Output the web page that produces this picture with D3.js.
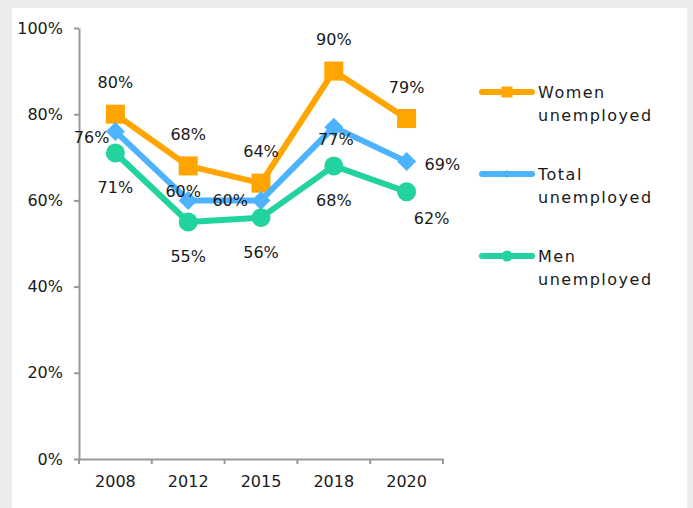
<!DOCTYPE html>
<html>
<head>
<meta charset="utf-8">
<script src="https://cdn.jsdelivr.net/npm/d3@7"></script>
<style>
	html, body { margin: 0; padding: 0; background: #ececec; }
	svg { display: block; }
	text { font-family: "Century Gothic", "DejaVu Sans", sans-serif; fill: #1a1a1a; }
</style>
</head>
<body>
<script>
var years = ["2008", "2012", "2015", "2018", "2020"];
var women = [0.80, 0.68, 0.64, 0.90, 0.79];
var total = [0.76, 0.60, 0.60, 0.77, 0.69];
var men = [0.71, 0.55, 0.56, 0.68, 0.62];
var yTicks = [0, 0.2, 0.4, 0.6, 0.8, 1];
var seriesNames = [["Women", "unemployed"], ["Total", "unemployed"], ["Men", "unemployed"]];

var width = 693,
	height = 508;

var svg = d3.select("body").append("svg")
	.attr("width", width)
	.attr("height", height);

// white panel
svg.append("rect")
	.attr("x", 12).attr("y", 8)
	.attr("width", 675).attr("height", 500)
	.attr("fill", "#fff");

var x = d3.scaleBand().domain(years).range([79, 443]);
var y = d3.scaleLinear().domain([0, 1]).range([459, 28]);
var cx = function(d, i) { return x(years[i]) + x.bandwidth() / 2; };
var pct = d3.format(".0%");

var series = [
	{ values: women, color: "#ffa500", shape: "square", place: ["above", "above", "above", "above", "above"] },
	{ values: total, color: "#4db3ff", shape: "diamond", place: ["lowerleft", "upperleft", "left", "under", "right"] },
	{ values: men, color: "#22d3a0", shape: "circle", place: ["below", "below", "below", "below", "belowright"] }
];

// label offsets from the point, by placement keyword: [dx, dy, anchor]
var placements = {
	above: [0, -26, "middle"],
	below: [0, 40, "middle"],
	under: [2, 18, "middle"],
	belowright: [25, 32, "middle"],
	left: [-13, 6, "end"],
	lowerleft: [-6, 12, "end"],
	upperleft: [-5, -3, "middle"],
	right: [18, 8, "start"]
};

// axes
svg.append("g")
	.attr("transform", "translate(79,0)")
	.call(d3.axisLeft(y).tickValues(yTicks).tickFormat(pct).tickSize(5).tickSizeOuter(0).tickPadding(11));

var xAxis = svg.append("g")
	.attr("transform", "translate(0,459)")
	.call(d3.axisBottom(x).tickSize(0).tickSizeOuter(0).tickPadding(17));

var edges = years.map(function(d) { return x(d); }).concat([x(years[years.length - 1]) + x.bandwidth()]);
xAxis.selectAll(".edge").data(edges).enter().append("line")
	.attr("class", "edge")
	.attr("x1", function(d) { return d; }).attr("x2", function(d) { return d; })
	.attr("y1", 0).attr("y2", 5);

svg.selectAll(".domain, .tick line, .edge")
	.attr("stroke", "#999")
	.attr("stroke-width", 2);
svg.selectAll(".tick text")
	.style("font-size", "16px")
	.attr("fill", "#1a1a1a");

function marker(sel, shape, size) {
	if(shape === "square") {
		sel.append("rect")
			.attr("x", -size / 2).attr("y", -size / 2)
			.attr("width", size).attr("height", size);
	} else if(shape === "diamond") {
		var h = size / 2;
		sel.append("path").attr("d", "M0," + (-h) + "L" + h + ",0L0," + h + "L" + (-h) + ",0Z");
	} else {
		sel.append("circle").attr("r", size / 2);
	}
}

var line = d3.line()
	.x(function(d, i) { return cx(d, i); })
	.y(function(d) { return y(d); });

series.forEach(function(s) {
	var g = svg.append("g");

	g.append("path")
		.attr("d", line(s.values))
		.attr("fill", "none")
		.attr("stroke", s.color)
		.attr("stroke-width", 6)
		.attr("stroke-linejoin", "round");

	g.selectAll(".pt").data(s.values).enter().append("g")
		.attr("transform", function(d, i) { return "translate(" + cx(d, i) + "," + y(d) + ")"; })
		.attr("fill", s.color)
		.each(function() { marker(d3.select(this), s.shape, 19); });
});

// data labels, drawn last so they sit on top
series.forEach(function(s) {
	svg.append("g").selectAll("text").data(s.values).enter().append("text")
		.style("font-size", "16px")
		.attr("text-anchor", function(d, i) { return placements[s.place[i]][2]; })
		.attr("x", function(d, i) { return cx(d, i) + placements[s.place[i]][0]; })
		.attr("y", function(d, i) { return y(d) + placements[s.place[i]][1]; })
		.text(pct);
});

// legend
var legend = svg.append("g").attr("transform", "translate(480,92)");
series.forEach(function(s, i) {
	var g = legend.append("g").attr("transform", "translate(0," + (i * 82) + ")");
	g.append("line")
		.attr("x1", 2).attr("x2", 52)
		.attr("stroke", s.color)
		.attr("stroke-width", 6)
		.attr("stroke-linecap", "round");
	var m = g.append("g").attr("transform", "translate(27,0)").attr("fill", s.color);
	marker(m, s.shape, s.shape === "diamond" ? 8 : 11);
	g.selectAll("text").data(seriesNames[i]).enter().append("text")
		.attr("x", 58)
		.attr("y", function(d, j) { return 6 + j * 23; })
		.style("font-size", "16px")
		.style("letter-spacing", "1.5px")
		.text(function(d) { return d; });
});
</script>
</body>
</html>
